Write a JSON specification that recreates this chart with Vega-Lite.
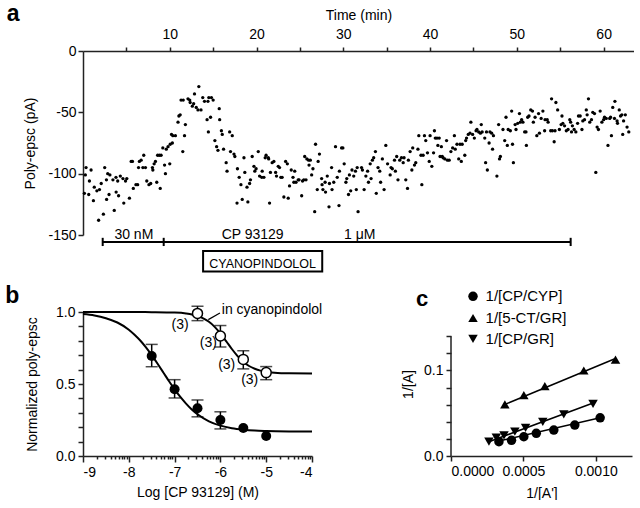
{
"$schema": "https://vega.github.io/schema/vega-lite/v6.json",
"background": "white",
"padding": {"left": 5, "top": 3, "right": 0, "bottom": 0},
"config": {
 "view": {"stroke": null},
 "font": "Liberation Sans",
 "axis": {"grid": false, "domainColor": "#222", "domainWidth": 1.5, "tickColor": "#222", "tickWidth": 1.5, "labelColor": "#000", "titleColor": "#000", "labelFontSize": 14, "titleFontSize": 14, "titleFontWeight": "normal", "labelFont": "Liberation Sans", "titleFont": "Liberation Sans", "tickSize": 5, "labelOverlap": false}
},
"datasets": {
 "trace": [
  {"t":0.16,"v":-116},{"t":0.27,"v":-101},{"t":0.35,"v":-95},{"t":0.66,"v":-117},{"t":0.74,"v":-106},{"t":0.93,"v":-97},{"t":1.2,"v":-122},{"t":1.3,"v":-111},{"t":1.6,"v":-114},{"t":1.8,"v":-138},{"t":1.9,"v":-113},{"t":2.1,"v":-108},{"t":2.35,"v":-133},{"t":2.5,"v":-95},{"t":2.7,"v":-105},{"t":2.72,"v":-121},{"t":2.85,"v":-100},{"t":3.0,"v":-117},{"t":3.1,"v":-101},{"t":3.45,"v":-105},{"t":3.6,"v":-130},{"t":3.8,"v":-103},{"t":3.82,"v":-115},{"t":4.0,"v":-106},{"t":4.1,"v":-118},{"t":4.3,"v":-102},{"t":4.6,"v":-104},{"t":4.7,"v":-124},{"t":4.9,"v":-106},{"t":5.05,"v":-104},{"t":5.35,"v":-120},{"t":5.55,"v":-90},{"t":5.7,"v":-90},{"t":5.8,"v":-112},{"t":6.1,"v":-109},{"t":6.3,"v":-109},{"t":6.4,"v":-95},{"t":6.5,"v":-90},{"t":6.7,"v":-89},{"t":6.9,"v":-95},{"t":7.0,"v":-85},{"t":7.2,"v":-95},{"t":7.35,"v":-106},{"t":7.6,"v":-109},{"t":7.8,"v":-108},{"t":8.0,"v":-95},{"t":8.05,"v":-97},{"t":8.2,"v":-92},{"t":8.35,"v":-90},{"t":8.5,"v":-107},{"t":8.6,"v":-85},{"t":8.8,"v":-85},{"t":8.9,"v":-112},{"t":9.0,"v":-85},{"t":9.2,"v":-79},{"t":9.4,"v":-93},{"t":9.5,"v":-100},{"t":9.6,"v":-80},{"t":9.8,"v":-78},{"t":10.0,"v":-92},{"t":10.05,"v":-76},{"t":10.2,"v":-68},{"t":10.3,"v":-75},{"t":10.35,"v":-69},{"t":10.65,"v":-69},{"t":10.95,"v":-58},{"t":11.05,"v":-53},{"t":11.2,"v":-52},{"t":11.3,"v":-40},{"t":11.5,"v":-82},{"t":11.55,"v":-40},{"t":11.7,"v":-69},{"t":11.8,"v":-60},{"t":12.1,"v":-39},{"t":12.3,"v":-40},{"t":12.35,"v":-42},{"t":12.6,"v":-45},{"t":12.75,"v":-43},{"t":12.85,"v":-35},{"t":13.05,"v":-46},{"t":13.25,"v":-48},{"t":13.35,"v":-29},{"t":13.6,"v":-48},{"t":13.8,"v":-38},{"t":14.0,"v":-41},{"t":14.3,"v":-56},{"t":14.4,"v":-41},{"t":14.45,"v":-66},{"t":14.5,"v":-38},{"t":14.7,"v":-54},{"t":14.8,"v":-38},{"t":15.0,"v":-40},{"t":15.2,"v":-73},{"t":15.4,"v":-78},{"t":15.55,"v":-81},{"t":15.7,"v":-47},{"t":15.75,"v":-56},{"t":15.95,"v":-65},{"t":16.05,"v":-68},
  {"t":16.2,"v":-80},{"t":16.5,"v":-91},{"t":16.6,"v":-98},{"t":16.9,"v":-66},{"t":17.0,"v":-82},{"t":17.2,"v":-69},{"t":17.4,"v":-84},{"t":17.5,"v":-86},{"t":17.75,"v":-124},{"t":17.8,"v":-96},{"t":18.0,"v":-103},{"t":18.2,"v":-109},{"t":18.35,"v":-121},{"t":18.55,"v":-87},{"t":18.65,"v":-99},{"t":18.9,"v":-111},{"t":19.0,"v":-123},{"t":19.2,"v":-108},{"t":19.3,"v":-105},{"t":19.5,"v":-86},{"t":19.7,"v":-94},{"t":19.8,"v":-98},{"t":19.95,"v":-96},{"t":20.2,"v":-82},{"t":20.35,"v":-102},{"t":20.6,"v":-103},{"t":20.65,"v":-98},{"t":20.85,"v":-103},{"t":21.0,"v":-87},{"t":21.1,"v":-85},{"t":21.35,"v":-87},{"t":21.4,"v":-88},{"t":21.5,"v":-124},{"t":21.6,"v":-99},{"t":21.8,"v":-91},{"t":22.0,"v":-90},{"t":22.2,"v":-99},{"t":22.3,"v":-102},{"t":22.5,"v":-94},{"t":22.65,"v":-95},{"t":22.8,"v":-103},{"t":22.95,"v":-103},{"t":23.15,"v":-119},{"t":23.35,"v":-90},{"t":23.55,"v":-92},{"t":23.65,"v":-120},{"t":23.8,"v":-110},{"t":24.0,"v":-97},{"t":24.2,"v":-103},{"t":24.3,"v":-107},{"t":24.4,"v":-98},{"t":24.55,"v":-107},{"t":24.8,"v":-105},{"t":24.9,"v":-105},{"t":25.2,"v":-118},{"t":25.3,"v":-106},{"t":25.45,"v":-105},{"t":25.55,"v":-86},{"t":25.7,"v":-105},{"t":25.8,"v":-88},{"t":26.0,"v":-89},{"t":26.05,"v":-93},{"t":26.2,"v":-89},{"t":26.35,"v":-101},{"t":26.5,"v":-96},{"t":26.7,"v":-131},{"t":26.8,"v":-76},{"t":27.0,"v":-113},{"t":27.1,"v":-90},{"t":27.25,"v":-84},{"t":27.5,"v":-104},{"t":27.55,"v":-109},{"t":27.65,"v":-113},{"t":27.9,"v":-107},{"t":27.95,"v":-115},{"t":28.15,"v":-102},{"t":28.35,"v":-127},{"t":28.4,"v":-108},{"t":28.65,"v":-95},{"t":28.7,"v":-113},{"t":28.9,"v":-107},{"t":29.1,"v":-78},{"t":29.3,"v":-103},{"t":29.5,"v":-126},{"t":29.55,"v":-98},{"t":29.8,"v":-79},{"t":29.95,"v":-79},{"t":30.1,"v":-92},{"t":30.3,"v":-107},{"t":30.4,"v":-104},{"t":30.6,"v":-117},{"t":30.7,"v":-101},{"t":30.85,"v":-114},{"t":31.0,"v":-97},{"t":31.2,"v":-102},{"t":31.4,"v":-98},{"t":31.5,"v":-113},{"t":31.6,"v":-95},{"t":31.7,"v":-131},
  {"t":32.1,"v":-95},{"t":32.2,"v":-97},{"t":32.4,"v":-113},{"t":32.6,"v":-102},{"t":32.8,"v":-98},{"t":32.9,"v":-107},{"t":33.1,"v":-92},{"t":33.2,"v":-104},{"t":33.35,"v":-89},{"t":33.5,"v":-87},{"t":33.7,"v":-82},{"t":33.8,"v":-116},{"t":34.0,"v":-95},{"t":34.2,"v":-98},{"t":34.3,"v":-107},{"t":34.5,"v":-88},{"t":34.7,"v":-113},{"t":34.9,"v":-77},{"t":35.1,"v":-92},{"t":35.4,"v":-101},{"t":35.5,"v":-95},{"t":35.65,"v":-96},{"t":35.9,"v":-89},{"t":36.0,"v":-98},{"t":36.15,"v":-86},{"t":36.3,"v":-105},{"t":36.5,"v":-89},{"t":36.7,"v":-87},{"t":36.9,"v":-91},{"t":37.0,"v":-87},{"t":37.2,"v":-105},{"t":37.4,"v":-112},{"t":37.5,"v":-89},{"t":37.7,"v":-82},{"t":37.9,"v":-97},{"t":38.0,"v":-79},{"t":38.2,"v":-93},{"t":38.35,"v":-91},{"t":38.6,"v":-80},{"t":38.7,"v":-69},{"t":38.95,"v":-85},{"t":39.05,"v":-109},{"t":39.2,"v":-85},{"t":39.35,"v":-69},{"t":39.5,"v":-73},{"t":39.7,"v":-83},{"t":39.9,"v":-90},{"t":40.0,"v":-69},{"t":40.2,"v":-94},{"t":40.4,"v":-83},{"t":40.5,"v":-65},{"t":40.6,"v":-71},{"t":40.8,"v":-71},{"t":40.9,"v":-77},{"t":41.05,"v":-71},{"t":41.15,"v":-86},{"t":41.3,"v":-78},{"t":41.4,"v":-86},{"t":41.5,"v":-87},{"t":41.7,"v":-88},{"t":41.9,"v":-73},{"t":42.0,"v":-89},{"t":42.2,"v":-89},{"t":42.4,"v":-82},{"t":42.6,"v":-79},{"t":42.8,"v":-69},{"t":42.9,"v":-80},{"t":43.1,"v":-76},{"t":43.3,"v":-88},{"t":43.45,"v":-76},{"t":43.6,"v":-90},{"t":43.7,"v":-76},{"t":44.0,"v":-85},{"t":44.1,"v":-73},{"t":44.2,"v":-71},{"t":44.4,"v":-68},{"t":44.6,"v":-67},{"t":44.7,"v":-58},{"t":44.9,"v":-68},{"t":45.1,"v":-71},{"t":45.3,"v":-65},{"t":45.4,"v":-64},{"t":45.6,"v":-66},{"t":45.8,"v":-67},{"t":45.9,"v":-60},{"t":46.0,"v":-66},{"t":46.3,"v":-71},{"t":46.4,"v":-91},{"t":46.5,"v":-66},{"t":46.6,"v":-97},{"t":46.8,"v":-75},{"t":46.9,"v":-66},{"t":47.1,"v":-67},{"t":47.2,"v":-80},{"t":47.3,"v":-69},
  {"t":47.7,"v":-102},{"t":47.9,"v":-60},{"t":48.0,"v":-88},{"t":48.1,"v":-86},{"t":48.4,"v":-64},{"t":48.6,"v":-73},{"t":48.75,"v":-54},{"t":48.9,"v":-77},{"t":49.0,"v":-64},{"t":49.25,"v":-65},{"t":49.4,"v":-49},{"t":49.5,"v":-76},{"t":49.6,"v":-91},{"t":49.8,"v":-60},{"t":49.9,"v":-64},{"t":50.1,"v":-59},{"t":50.3,"v":-51},{"t":50.4,"v":-58},{"t":50.55,"v":-56},{"t":50.7,"v":-58},{"t":50.9,"v":-66},{"t":51.05,"v":-66},{"t":51.1,"v":-77},{"t":51.25,"v":-54},{"t":51.4,"v":-53},{"t":51.6,"v":-48},{"t":51.8,"v":-49},{"t":51.9,"v":-58},{"t":52.1,"v":-54},{"t":52.3,"v":-69},{"t":52.5,"v":-51},{"t":52.6,"v":-67},{"t":52.8,"v":-55},{"t":53.0,"v":-49},{"t":53.2,"v":-65},{"t":53.25,"v":-56},{"t":53.5,"v":-56},{"t":53.6,"v":-58},{"t":53.9,"v":-65},{"t":54.0,"v":-39},{"t":54.1,"v":-65},{"t":54.3,"v":-74},{"t":54.4,"v":-65},{"t":54.5,"v":-42},{"t":54.7,"v":-48},{"t":54.9,"v":-64},{"t":55.1,"v":-60},{"t":55.2,"v":-53},{"t":55.3,"v":-59},{"t":55.5,"v":-61},{"t":55.7,"v":-65},{"t":55.9,"v":-64},{"t":56.1,"v":-56},{"t":56.2,"v":-58},{"t":56.3,"v":-66},{"t":56.4,"v":-61},{"t":56.6,"v":-64},{"t":56.8,"v":-66},{"t":57.0,"v":-59},{"t":57.1,"v":-53},{"t":57.3,"v":-53},{"t":57.5,"v":-64},{"t":57.6,"v":-57},{"t":57.8,"v":-56},{"t":58.0,"v":-48},{"t":58.1,"v":-52},{"t":58.25,"v":-39},{"t":58.4,"v":-58},{"t":58.6,"v":-56},{"t":58.75,"v":-50},{"t":58.95,"v":-51},{"t":59.1,"v":-99},{"t":59.25,"v":-62},{"t":59.4,"v":-64},{"t":59.6,"v":-49},{"t":59.8,"v":-58},{"t":60.0,"v":-56},{"t":60.1,"v":-54},{"t":60.3,"v":-55},{"t":60.5,"v":-77},{"t":60.7,"v":-55},{"t":60.8,"v":-54},{"t":60.9,"v":-69},{"t":61.05,"v":-46},{"t":61.25,"v":-55},{"t":61.3,"v":-41},{"t":61.55,"v":-57},{"t":61.6,"v":-59},{"t":61.8,"v":-48},{"t":61.95,"v":-53},{"t":62.1,"v":-52},{"t":62.2,"v":-68},{"t":62.3,"v":-57},{"t":62.5,"v":-52},{"t":62.7,"v":-62},{"t":62.9,"v":-66}
 ],
 "bCurve": [
  {"s":"ctrl","x":-9,"y":0.986},{"s":"ctrl","x":-8.75,"y":0.976},{"s":"ctrl","x":-8.5,"y":0.957},{"s":"ctrl","x":-8.25,"y":0.927},{"s":"ctrl","x":-8,"y":0.877},{"s":"ctrl","x":-7.875,"y":0.842},{"s":"ctrl","x":-7.75,"y":0.802},{"s":"ctrl","x":-7.625,"y":0.754},{"s":"ctrl","x":-7.5,"y":0.7},{"s":"ctrl","x":-7.375,"y":0.642},{"s":"ctrl","x":-7.25,"y":0.582},{"s":"ctrl","x":-7.125,"y":0.521},{"s":"ctrl","x":-7,"y":0.463},{"s":"ctrl","x":-6.875,"y":0.41},{"s":"ctrl","x":-6.75,"y":0.364},{"s":"ctrl","x":-6.625,"y":0.323},{"s":"ctrl","x":-6.5,"y":0.29},{"s":"ctrl","x":-6.25,"y":0.241},{"s":"ctrl","x":-6,"y":0.211},{"s":"ctrl","x":-5.75,"y":0.193},{"s":"ctrl","x":-5.5,"y":0.183},{"s":"ctrl","x":-5.25,"y":0.177},{"s":"ctrl","x":-5,"y":0.174},{"s":"ctrl","x":-4.5,"y":0.171},{"s":"ctrl","x":-4,"y":0.17},
  {"s":"cyp","x":-9,"y":1.0},{"s":"cyp","x":-8,"y":1.0},{"s":"cyp","x":-7.5,"y":0.999},{"s":"cyp","x":-7,"y":0.996},{"s":"cyp","x":-6.75,"y":0.99},{"s":"cyp","x":-6.5,"y":0.973},{"s":"cyp","x":-6.375,"y":0.956},{"s":"cyp","x":-6.25,"y":0.932},{"s":"cyp","x":-6.125,"y":0.897},{"s":"cyp","x":-6,"y":0.851},{"s":"cyp","x":-5.875,"y":0.798},{"s":"cyp","x":-5.75,"y":0.743},{"s":"cyp","x":-5.625,"y":0.694},{"s":"cyp","x":-5.5,"y":0.654},{"s":"cyp","x":-5.375,"y":0.625},{"s":"cyp","x":-5.25,"y":0.606},{"s":"cyp","x":-5.125,"y":0.593},{"s":"cyp","x":-5,"y":0.585},{"s":"cyp","x":-4.75,"y":0.577},{"s":"cyp","x":-4.5,"y":0.575},{"s":"cyp","x":-4,"y":0.573}
 ],
 "bPts": [
  {"s":"ctrl","x":-7.5,"y":0.695,"lo":0.62,"hi":0.775},{"s":"ctrl","x":-7,"y":0.463,"lo":0.403,"hi":0.53},{"s":"ctrl","x":-6.5,"y":0.331,"lo":0.272,"hi":0.389},{"s":"ctrl","x":-6,"y":0.25,"lo":0.188,"hi":0.307},{"s":"ctrl","x":-5.5,"y":0.194},{"s":"ctrl","x":-5,"y":0.139},
  {"s":"cyp","x":-6.5,"y":0.99,"lo":0.94,"hi":1.04},{"s":"cyp","x":-6,"y":0.833,"lo":0.757,"hi":0.906},{"s":"cyp","x":-5.5,"y":0.671,"lo":0.605,"hi":0.731},{"s":"cyp","x":-5,"y":0.579,"lo":0.53,"hi":0.621}
 ],
 "cPts": [
  {"s":"1/[CP/CYP]","x":0.000331,"y":0.0167},{"s":"1/[CP/CYP]","x":0.000418,"y":0.0183},{"s":"1/[CP/CYP]","x":0.000503,"y":0.0225},{"s":"1/[CP/CYP]","x":0.000589,"y":0.0265},{"s":"1/[CP/CYP]","x":0.00071,"y":0.0303},{"s":"1/[CP/CYP]","x":0.000855,"y":0.0362},{"s":"1/[CP/CYP]","x":0.00103,"y":0.0447},
  {"s":"1/[5-CT/GR]","x":0.000372,"y":0.0603},{"s":"1/[5-CT/GR]","x":0.000503,"y":0.0712},{"s":"1/[5-CT/GR]","x":0.000648,"y":0.0817},{"s":"1/[5-CT/GR]","x":0.000917,"y":0.1},{"s":"1/[5-CT/GR]","x":0.001136,"y":0.1128},
  {"s":"1/[CP/GR]","x":0.000262,"y":0.0167},{"s":"1/[CP/GR]","x":0.000313,"y":0.0214},{"s":"1/[CP/GR]","x":0.000366,"y":0.0242},{"s":"1/[CP/GR]","x":0.000441,"y":0.0284},{"s":"1/[CP/GR]","x":0.000515,"y":0.033},{"s":"1/[CP/GR]","x":0.000634,"y":0.04},{"s":"1/[CP/GR]","x":0.000779,"y":0.0486},{"s":"1/[CP/GR]","x":0.000981,"y":0.061}
 ],
 "cFit": [
  {"s":"1/[CP/CYP]","x":0.000331,"y":0.0175},{"s":"1/[CP/CYP]","x":0.00103,"y":0.0447},
  {"s":"1/[5-CT/GR]","x":0.000372,"y":0.0603},{"s":"1/[5-CT/GR]","x":0.001136,"y":0.114},
  {"s":"1/[CP/GR]","x":0.000262,"y":0.0167},{"s":"1/[CP/GR]","x":0.000986,"y":0.0622}
 ],
 "cLeg": [
  {"s":"1/[CP/CYP]","x":0.000152,"lx":0.000239,"y":0.1867},
  {"s":"1/[5-CT/GR]","x":0.000152,"lx":0.000239,"y":0.1614},
  {"s":"1/[CP/GR]","x":0.000152,"lx":0.000239,"y":0.1369}
 ]
},
"spacing": 77,
"bounds": "flush",
"vconcat": [
 {
  "width": 551, "height": 184,
  "layer": [
   {"data": {"name": "trace"},
    "mark": {"type": "point", "filled": true, "color": "#000", "size": 11, "opacity": 1},
    "encoding": {
     "x": {"field": "t", "type": "quantitative", "title": "Time (min)", "scale": {"domain": [0, 63.5], "nice": false, "zero": false},
      "axis": {"orient": "top", "values": [5,10,15,20,25,30,35,40,45,50,55,60], "tickCount": 100, "labelExpr": "datum.value % 10 === 0 ? '' + datum.value : ''", "tickSize": 4, "labelPadding": 6, "titlePadding": 5}},
     "y": {"field": "v", "type": "quantitative", "title": "Poly-epsc (pA)", "scale": {"domain": [-150, 0], "nice": false},
      "axis": {"values": [-150, -100, -50, 0], "tickCount": 100, "labelExpr": "'' + datum.value", "tickSize": 5, "labelPadding": 2, "titlePadding": 10}}
    }},
   {"data": {"values": [{"t": 2.27, "t2": 56.2, "v": -155.7}]},
    "mark": {"type": "rule", "color": "#000", "strokeWidth": 2},
    "encoding": {"x": {"field": "t", "type": "quantitative", "title": "Time (min)"}, "x2": {"field": "t2"}, "y": {"field": "v", "type": "quantitative", "title": "Poly-epsc (pA)"}}},
   {"data": {"values": [{"t": 2.27, "v": -152.3, "v2": -159}, {"t": 9.3, "v": -152.3, "v2": -159}, {"t": 56.2, "v": -152.3, "v2": -159}]},
    "mark": {"type": "rule", "color": "#000", "strokeWidth": 2},
    "encoding": {"x": {"field": "t", "type": "quantitative", "title": "Time (min)"}, "y": {"field": "v", "type": "quantitative", "title": "Poly-epsc (pA)"}, "y2": {"field": "v2"}}},
   {"data": {"values": [{"t": 13.84, "t2": 27.57, "v": -163, "v2": -179.8}]},
    "mark": {"type": "rect", "fill": "#fff", "stroke": "#000", "strokeWidth": 2},
    "encoding": {"x": {"field": "t", "type": "quantitative", "title": "Time (min)"}, "x2": {"field": "t2"}, "y": {"field": "v", "type": "quantitative", "title": "Poly-epsc (pA)"}, "y2": {"field": "v2"}}},
   {"data": {"values": [{"t": 5.86, "v": -153, "label": "30 nM"}, {"t": 19.55, "v": -153, "label": "CP 93129"}, {"t": 31.9, "v": -153, "label": "1 μM"}]},
    "mark": {"type": "text", "fontSize": 14, "align": "center", "baseline": "alphabetic", "color": "#000"},
    "encoding": {"x": {"field": "t", "type": "quantitative", "title": "Time (min)"}, "y": {"field": "v", "type": "quantitative", "title": "Poly-epsc (pA)"}, "text": {"field": "label"}}},
   {"data": {"values": [{"t": 20.7, "v": -177, "label": "CYANOPINDOLOL"}]},
    "mark": {"type": "text", "fontSize": 12.5, "align": "center", "baseline": "alphabetic", "color": "#000"},
    "encoding": {"x": {"field": "t", "type": "quantitative", "title": "Time (min)"}, "y": {"field": "v", "type": "quantitative", "title": "Poly-epsc (pA)"}, "text": {"field": "label"}}},
   {"data": {"values": [{"t": -8.8, "v": 24.4, "label": "a"}]},
    "mark": {"type": "text", "fontSize": 23, "fontWeight": "bold", "align": "left", "baseline": "alphabetic", "color": "#000"},
    "encoding": {"x": {"field": "t", "type": "quantitative", "title": "Time (min)"}, "y": {"field": "v", "type": "quantitative", "title": "Poly-epsc (pA)"}, "text": {"field": "label"}}}
  ]
 },
 {
  "spacing": 139,
  "bounds": "flush",
  "hconcat": [
   {
    "width": 229, "height": 144,
    "layer": [
     {"data": {"name": "bCurve"},
      "mark": {"type": "line", "color": "#000", "strokeWidth": 2, "interpolate": "monotone"},
      "encoding": {
       "x": {"field": "x", "type": "quantitative", "title": "Log [CP 93129] (M)", "scale": {"domain": [-9, -4], "nice": false, "zero": false},
        "axis": {"values": [-9,-8.699,-8.523,-8.398,-8.301,-8.222,-8.155,-8.097,-8.046,-8,-7.699,-7.523,-7.398,-7.301,-7.222,-7.155,-7.097,-7.046,-7,-6.699,-6.523,-6.398,-6.301,-6.222,-6.155,-6.097,-6.046,-6,-5.699,-5.523,-5.398,-5.301,-5.222,-5.155,-5.097,-5.046,-5,-4.699,-4.523,-4.398,-4.301,-4.222,-4.155,-4.097,-4.046,-4],
         "tickCount": 100,
         "labelExpr": "datum.value % 1 === 0 ? '' + datum.value : ''",
         "tickSize": {"condition": {"test": "datum.value % 1 === 0", "value": 6}, "value": 3}, "labelPadding": 3, "titlePadding": 6}},
       "y": {"field": "y", "type": "quantitative", "title": "Normalized poly-epsc", "scale": {"domain": [0, 1], "nice": false},
        "axis": {"values": [0,0.1,0.2,0.3,0.4,0.5,0.6,0.7,0.8,0.9,1], "tickCount": 100, "labelExpr": "datum.value === 0 ? '0.0' : (datum.value === 0.5 ? '0.5' : (datum.value === 1 ? '1.0' : ''))", "tickSize": 5, "labelPadding": 3, "titlePadding": 16}},
       "detail": {"field": "s"}
      }},
     {"data": {"name": "bPts"}, "transform": [{"filter": "isValid(datum.lo)"}],
      "mark": {"type": "rule", "color": "#000", "strokeWidth": 1.5},
      "encoding": {"x": {"field": "x", "type": "quantitative", "title": "Log [CP 93129] (M)"}, "y": {"field": "lo", "type": "quantitative", "title": "Normalized poly-epsc"}, "y2": {"field": "hi"}}},
     {"data": {"name": "bPts"}, "transform": [{"filter": "isValid(datum.lo)"}],
      "mark": {"type": "tick", "orient": "horizontal", "color": "#000", "size": 12, "thickness": 1.5},
      "encoding": {"x": {"field": "x", "type": "quantitative", "title": "Log [CP 93129] (M)"}, "y": {"field": "lo", "type": "quantitative", "title": "Normalized poly-epsc"}}},
     {"data": {"name": "bPts"}, "transform": [{"filter": "isValid(datum.lo)"}],
      "mark": {"type": "tick", "orient": "horizontal", "color": "#000", "size": 12, "thickness": 1.5},
      "encoding": {"x": {"field": "x", "type": "quantitative", "title": "Log [CP 93129] (M)"}, "y": {"field": "hi", "type": "quantitative", "title": "Normalized poly-epsc"}}},
     {"data": {"name": "bPts"}, "transform": [{"filter": "datum.s === 'ctrl'"}],
      "mark": {"type": "point", "shape": "circle", "filled": true, "color": "#000", "size": 100, "opacity": 1},
      "encoding": {"x": {"field": "x", "type": "quantitative", "title": "Log [CP 93129] (M)"}, "y": {"field": "y", "type": "quantitative", "title": "Normalized poly-epsc"}}},
     {"data": {"name": "bPts"}, "transform": [{"filter": "datum.s === 'cyp'"}],
      "mark": {"type": "point", "shape": "circle", "filled": false, "fill": "#fff", "fillOpacity": 1, "stroke": "#000", "strokeWidth": 1.5, "size": 100, "opacity": 1},
      "encoding": {"x": {"field": "x", "type": "quantitative", "title": "Log [CP 93129] (M)"}, "y": {"field": "y", "type": "quantitative", "title": "Normalized poly-epsc"}}},
     {"data": {"values": [{"x": -6.88, "y": 0.913, "label": "(3)"}, {"x": -6.264, "y": 0.785, "label": "(3)"}, {"x": -5.862, "y": 0.635, "label": "(3)"}, {"x": -5.36, "y": 0.53, "label": "(3)"}]},
      "mark": {"type": "text", "fontSize": 14, "align": "center", "baseline": "middle", "color": "#000"},
      "encoding": {"x": {"field": "x", "type": "quantitative", "title": "Log [CP 93129] (M)"}, "y": {"field": "y", "type": "quantitative", "title": "Normalized poly-epsc"}, "text": {"field": "label"}}},
     {"data": {"values": [{"x": -5.97, "y": 1.017, "label": "in cyanopindolol"}]},
      "mark": {"type": "text", "fontSize": 14, "align": "left", "baseline": "middle", "color": "#000"},
      "encoding": {"x": {"field": "x", "type": "quantitative", "title": "Log [CP 93129] (M)"}, "y": {"field": "y", "type": "quantitative", "title": "Normalized poly-epsc"}, "text": {"field": "label"}}},
     {"data": {"values": [{"x": -6.264, "x2": -6.01, "y": 0.947, "y2": 0.993}]},
      "mark": {"type": "rule", "color": "#000", "strokeWidth": 1.2},
      "encoding": {"x": {"field": "x", "type": "quantitative", "title": "Log [CP 93129] (M)"}, "x2": {"field": "x2"}, "y": {"field": "y", "type": "quantitative", "title": "Normalized poly-epsc"}, "y2": {"field": "y2"}}},
     {"data": {"values": [{"x": -10.7, "y": 1.06, "label": "b"}]},
      "mark": {"type": "text", "fontSize": 23, "fontWeight": "bold", "align": "left", "baseline": "alphabetic", "color": "#000"},
      "encoding": {"x": {"field": "x", "type": "quantitative", "title": "Log [CP 93129] (M)"}, "y": {"field": "y", "type": "quantitative", "title": "Normalized poly-epsc"}, "text": {"field": "label"}}}
    ]
   },
   {
    "width": 181, "height": 144,
    "layer": [
     {"data": {"name": "cFit"},
      "mark": {"type": "line", "color": "#000", "strokeWidth": 1.5},
      "encoding": {
       "x": {"field": "x", "type": "quantitative", "title": "1/[A']", "scale": {"domain": [0, 0.00125], "nice": false},
        "axis": {"values": [0, 0.0005, 0.001], "tickCount": 100, "format": ".4f", "tickSize": 5, "labelPadding": 3, "titlePadding": 8}},
       "y": {"field": "y", "type": "quantitative", "title": "1/[A]", "scale": {"domain": [0, 0.1684], "nice": false},
        "axis": {"domain": false, "values": [0,0.02,0.04,0.06,0.08,0.1,0.12,0.14], "tickCount": 100, "labelExpr": "datum.value === 0 ? '0.0' : (abs(datum.value - 0.1) < 0.000001 ? '0.1' : '')", "tickSize": 5, "labelPadding": 3, "titlePadding": 8}},
       "detail": {"field": "s"}
      }},
     {"data": {"values": [{"x": 0, "y": 0, "y2": 0.14}]},
      "mark": {"type": "rule", "color": "#222", "strokeWidth": 1.5},
      "encoding": {"x": {"field": "x", "type": "quantitative", "title": "1/[A']"}, "y": {"field": "y", "type": "quantitative", "title": "1/[A]"}, "y2": {"field": "y2"}}},
     {"data": {"name": "cPts"},
      "mark": {"type": "point", "filled": true, "color": "#000", "size": 90, "opacity": 1},
      "encoding": {"x": {"field": "x", "type": "quantitative", "title": "1/[A']"}, "y": {"field": "y", "type": "quantitative", "title": "1/[A]"},
       "shape": {"field": "s", "type": "nominal", "scale": {"domain": ["1/[CP/CYP]", "1/[5-CT/GR]", "1/[CP/GR]"], "range": ["circle", "triangle-up", "triangle-down"]}, "legend": null}}},
     {"data": {"name": "cLeg"},
      "mark": {"type": "point", "filled": true, "color": "#000", "size": 90, "opacity": 1},
      "encoding": {"x": {"field": "x", "type": "quantitative", "title": "1/[A']"}, "y": {"field": "y", "type": "quantitative", "title": "1/[A]"},
       "shape": {"field": "s", "type": "nominal", "legend": null}}},
     {"data": {"name": "cLeg"},
      "mark": {"type": "text", "fontSize": 15, "align": "left", "baseline": "middle", "color": "#000"},
      "encoding": {"x": {"field": "lx", "type": "quantitative", "title": "1/[A']"}, "y": {"field": "y", "type": "quantitative", "title": "1/[A]"}, "text": {"field": "s"}}},
     {"data": {"values": [{"x": -0.000241, "y": 0.175, "label": "c"}]},
      "mark": {"type": "text", "fontSize": 22, "fontWeight": "bold", "align": "left", "baseline": "alphabetic", "color": "#000"},
      "encoding": {"x": {"field": "x", "type": "quantitative", "title": "1/[A']"}, "y": {"field": "y", "type": "quantitative", "title": "1/[A]"}, "text": {"field": "label"}}}
    ]
   }
  ]
 }
]
}
